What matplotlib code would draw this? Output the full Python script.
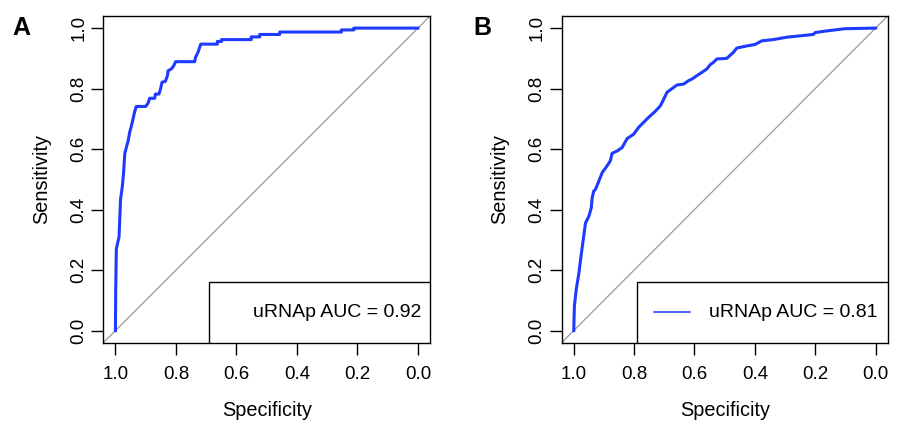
import numpy as np
import matplotlib.pyplot as plt
from matplotlib.patches import Rectangle

plt.rcParams['font.family'] = ['Liberation Sans', 'DejaVu Sans']

# ROC vertices (false positive rate, sensitivity)
fpr_a = [0.0, 0.001, 0.003, 0.012, 0.017, 0.023, 0.027, 0.031, 0.036, 0.042, 0.047, 0.053,
         0.058, 0.064, 0.069, 0.100, 0.108, 0.113, 0.130, 0.132, 0.144, 0.149, 0.154, 0.165,
         0.172, 0.174, 0.185, 0.193, 0.199, 0.262, 0.265, 0.273, 0.282, 0.337, 0.337, 0.351,
         0.351, 0.449, 0.449, 0.477, 0.477, 0.543, 0.543, 0.747, 0.747, 0.788, 0.788, 1.0]
tpr_a = [0.0, 0.135, 0.270, 0.310, 0.434, 0.478, 0.522, 0.586, 0.605, 0.627, 0.655, 0.677,
         0.699, 0.725, 0.741, 0.741, 0.752, 0.768, 0.768, 0.782, 0.782, 0.799, 0.821, 0.824,
         0.843, 0.859, 0.865, 0.876, 0.889, 0.889, 0.904, 0.920, 0.947, 0.947, 0.956, 0.956,
         0.962, 0.962, 0.971, 0.971, 0.979, 0.979, 0.987, 0.987, 0.994, 0.994, 1.0, 1.0]

fpr_b = [0.0, 0.002, 0.008, 0.017, 0.024, 0.033, 0.039, 0.050, 0.058, 0.061, 0.066, 0.072,
         0.083, 0.094, 0.110, 0.121, 0.127, 0.144, 0.160, 0.177, 0.198, 0.215, 0.231, 0.248,
         0.270, 0.287, 0.298, 0.309, 0.331, 0.342, 0.364, 0.380, 0.392, 0.408, 0.425, 0.441,
         0.452, 0.463, 0.474, 0.507, 0.529, 0.540, 0.568, 0.601, 0.623, 0.661, 0.706, 0.794,
         0.799, 0.832, 0.865, 0.898, 1.0]
tpr_b = [0.0, 0.080, 0.135, 0.190, 0.246, 0.312, 0.356, 0.378, 0.406, 0.439, 0.461, 0.467,
         0.494, 0.522, 0.544, 0.561, 0.586, 0.594, 0.605, 0.635, 0.649, 0.672, 0.688, 0.705,
         0.725, 0.743, 0.765, 0.788, 0.804, 0.812, 0.815, 0.826, 0.832, 0.843, 0.854, 0.865,
         0.879, 0.887, 0.898, 0.900, 0.920, 0.934, 0.940, 0.946, 0.958, 0.962, 0.970, 0.979,
         0.985, 0.990, 0.994, 0.998, 1.0]

panels = ['A', 'B']
auc_labels = ['uRNAp AUC = 0.92', 'uRNAp AUC = 0.81']
ticks = [1.0, 0.8, 0.6, 0.4, 0.2, 0.0]
tick_labels = ['1.0', '0.8', '0.6', '0.4', '0.2', '0.0']
blue = '#1f3aff'

fig = plt.figure(figsize=(9, 4.28), dpi=100)
ax_a = fig.add_axes([0.1148, 0.1993, 0.363, 0.7633])
ax_b = fig.add_axes([0.6241, 0.1993, 0.3622, 0.7633])

for ax, fpr, tpr in [(ax_a, fpr_a, tpr_a), (ax_b, fpr_b, tpr_b)]:
    spec = 1 - np.array(fpr)
    ax.axline((1, 0), (0, 1), color='#999999', lw=0.9, zorder=1)
    ax.plot(spec, tpr, color=blue, lw=2.2, zorder=3)
    ax.set_xlim(1.04, -0.04)
    ax.set_ylim(-0.04, 1.04)
    ax.set_xticks(ticks)
    ax.set_xticklabels(tick_labels)
    ax.set_yticks(ticks)
    ax.set_yticklabels(tick_labels, rotation=90, va='center')
    ax.tick_params(direction='out', length=8.5, width=1.0, labelsize=13.5, colors='black')
    ax.tick_params(axis='x', pad=8)
    ax.tick_params(axis='y', pad=3)
    for s in ax.spines.values():
        s.set_linewidth(1.0)
    ax.set_xlabel('Specificity', fontsize=14.3, labelpad=13.5)
    ax.set_ylabel('Sensitivity', fontsize=14.3, labelpad=14)

# legend boxes drawn like R's legend()
ax_a.add_patch(Rectangle((0.3245, 0), 0.6755, 0.1867, transform=ax_a.transAxes,
                         facecolor='white', edgecolor='black', lw=1.0, zorder=4))
ax_a.text(0.973, 0.093, auc_labels[0], transform=ax_a.transAxes, ha='right', va='center',
          fontsize=14, zorder=5)

ax_b.add_patch(Rectangle((0.230, 0), 0.770, 0.1867, transform=ax_b.transAxes,
                         facecolor='white', edgecolor='black', lw=1.0, zorder=4))
ax_b.plot([0.283, 0.393], [0.093, 0.093], transform=ax_b.transAxes, color=blue, lw=1.1, zorder=5)
ax_b.text(0.97, 0.093, auc_labels[1], transform=ax_b.transAxes, ha='right', va='center',
          fontsize=14, zorder=5)

fig.text(21 / 900, 1 - 28 / 428, panels[0], fontsize=18, fontweight='bold', ha='center', va='center')
fig.text(482 / 900, 1 - 28 / 428, panels[1], fontsize=18, fontweight='bold', ha='center', va='center')

fig.savefig('out.png', dpi=100)
